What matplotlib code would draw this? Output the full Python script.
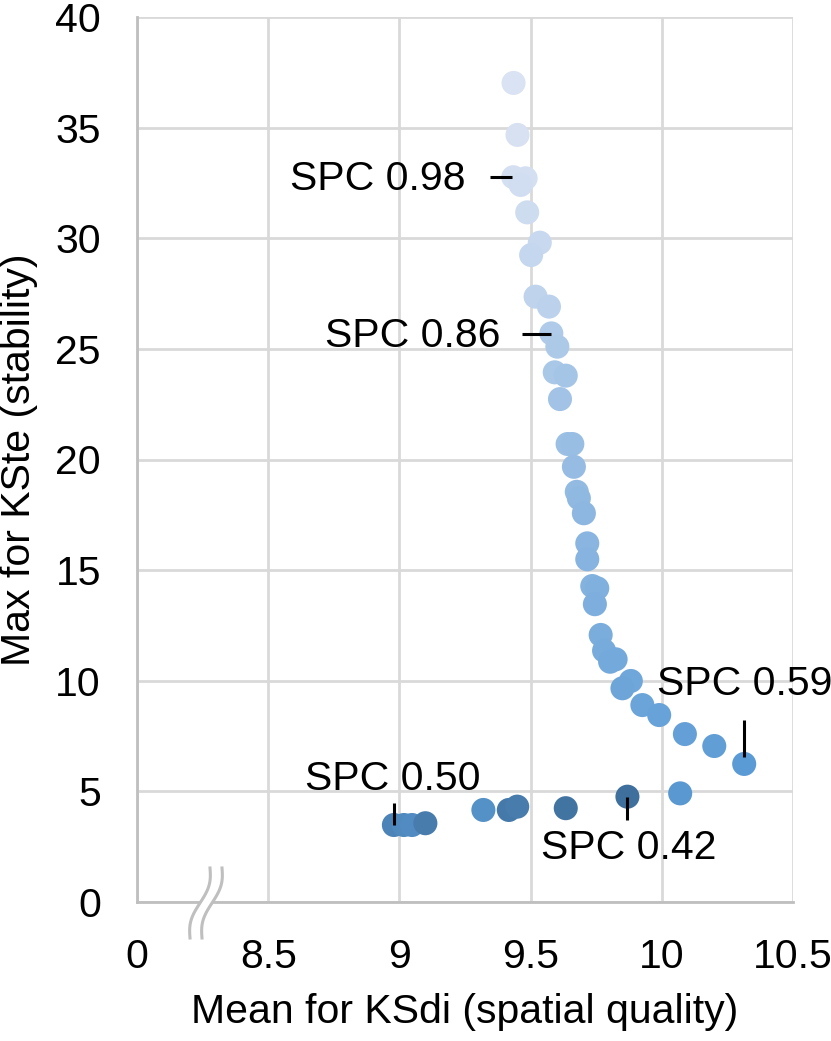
import numpy as np
import matplotlib
matplotlib.use("Agg")
import matplotlib.pyplot as plt
from matplotlib.colors import LinearSegmentedColormap, Normalize

plt.rcParams['font.family'] = ['Liberation Sans', 'DejaVu Sans']

# mean KSdi (x), max KSte (y) and SPC value (colour) for each run
ksdi = [9.435, 9.450, 9.434, 9.481, 9.462, 9.487, 9.535, 9.502, 9.519, 9.570,
        9.579, 9.602, 9.592, 9.634, 9.612, 9.641, 9.659, 9.665, 9.676, 9.684,
        9.703, 9.716, 9.716, 9.735, 9.754, 9.745, 9.767, 9.780, 9.824, 9.803,
        9.882, 9.850, 9.926, 9.990, 10.088, 10.200, 10.314,
        10.070, 9.869, 8.979, 9.017, 9.048, 9.099, 9.320, 9.417, 9.449, 9.634]
kste = [37.02, 34.67, 32.76, 32.71, 32.41, 31.17, 29.80, 29.24, 27.36, 26.91,
        25.70, 25.10, 23.94, 23.79, 22.73, 20.70, 20.70, 19.67, 18.54, 18.25,
        17.57, 16.21, 15.49, 14.28, 14.18, 13.46, 12.07, 11.36, 10.97, 10.86,
        9.99, 9.66, 8.90, 8.45, 7.59, 7.05, 6.24,
        4.91, 4.76, 3.48, 3.48, 3.48, 3.56, 4.16, 4.16, 4.31, 4.24]
spc = [1.00, 0.99, 0.98, 0.98, 0.97, 0.96, 0.94, 0.93, 0.91, 0.90,
       0.86, 0.85, 0.84, 0.83, 0.82, 0.80, 0.79, 0.78, 0.77, 0.76,
       0.75, 0.74, 0.73, 0.72, 0.71, 0.70, 0.69, 0.68, 0.67, 0.67,
       0.66, 0.65, 0.64, 0.63, 0.62, 0.61, 0.59,
       0.58, 0.42, 0.50, 0.52, 0.53, 0.47, 0.55, 0.46, 0.47, 0.44]

xticks = [8.0, 8.5, 9.0, 9.5, 10.0, 10.5]
xticklabels = ['0', '8.5', '9', '9.5', '10', '10.5']
yticks = [0, 5, 10, 15, 20, 25, 30, 35, 40]

# labelled runs: text, text anchor, tick segment
notes = [
    ("SPC 0.98", (9.252, 32.7), 'right', [9.347, 9.431], [32.77, 32.77]),
    ("SPC 0.86", (9.385, 25.6), 'right', [9.466, 9.576], [25.67, 25.67]),
    ("SPC 0.59", (9.981, 9.85), 'left', [10.314, 10.314], [8.23, 6.55]),
    ("SPC 0.50", (9.309, 5.55), 'right', [8.979, 8.979], [4.47, 3.48]),
    ("SPC 0.42", (9.538, 2.45), 'left', [9.869, 9.869], [4.75, 3.71]),
]

W, H = 831, 1041
fig = plt.figure(figsize=(W / 100, H / 100), dpi=100)
ax = fig.add_axes([137 / W, 1 - 902 / H, 656 / W, 885 / H])

cmap = LinearSegmentedColormap.from_list(
    'spc', [(0.0, '#3f6f9c'), ((0.59 - 0.42) / 0.58, '#5b9bd5'), (1.0, '#dae3f3')])
ax.scatter(ksdi, kste, c=spc, cmap=cmap, norm=Normalize(0.42, 1.0),
           s=300, edgecolors='none', zorder=3)

for txt, (tx, ty), ha, lx, ly in notes:
    ax.plot(lx, ly, color='black', lw=2.2, zorder=4, solid_capstyle='butt')
    ax.text(tx, ty, txt, ha=ha, va='center', fontsize=29.5, zorder=5)

ax.set_xlim(8.0, 10.5)
ax.set_ylim(0, 40)
ax.set_xticks(xticks)
ax.set_xticklabels(xticklabels)
ax.set_yticks(yticks)
ax.grid(True, color='#d9d9d9', lw=2)
ax.set_axisbelow(True)
for side in ['top', 'right']:
    ax.spines[side].set_visible(False)
for side in ['left', 'bottom']:
    ax.spines[side].set_color('#bfbfbf')
    ax.spines[side].set_linewidth(2)
ax.tick_params(length=0, labelsize=29.5, pad=26)
ax.set_xlabel('Mean for KSdi (spatial quality)', fontsize=29.5, labelpad=12)
ax.set_ylabel('Max for KSte (stability)', fontsize=29.5, labelpad=12)

# axis break mark on the x axis
t = np.linspace(-1, 1, 60)
xc, yc = 206, 903
def wave(dx):
    return (xc + dx - 10 * t - 4 * np.sin(np.pi * t)) / W, 1 - (yc + 35 * t) / H
x1, y1 = wave(-6)
x2, y2 = wave(6)
fig.patches.append(plt.Polygon(np.column_stack([np.r_[x1, x2[::-1]], np.r_[y1, y2[::-1]]]),
                               closed=True, facecolor='white', edgecolor='none',
                               transform=fig.transFigure, zorder=5))
fig.lines.append(plt.Line2D(x1, y1, color='#bfbfbf', lw=2.2, transform=fig.transFigure, zorder=6))
fig.lines.append(plt.Line2D(x2, y2, color='#bfbfbf', lw=2.2, transform=fig.transFigure, zorder=6))

fig.savefig('out.png', dpi=100)
